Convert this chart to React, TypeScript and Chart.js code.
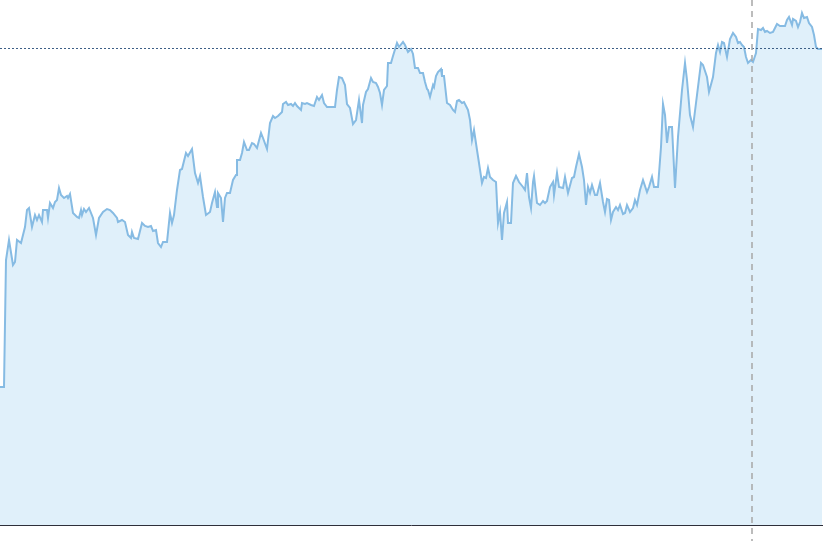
import React, { useEffect, useRef } from "react";
import { Chart, registerables } from "chart.js";

Chart.register(...registerables);

const days: number[] = [
  0, 4, 6, 9, 13, 15, 17, 21, 25, 27, 29, 32, 35, 37, 39, 42, 43, 47, 48, 50,
  53, 55, 57, 59, 61, 64, 67, 68, 70, 73, 77, 79, 81, 82, 84, 86, 89, 93, 96, 99,
  103, 107, 110, 113, 117, 118, 122, 125, 128, 131, 132, 134, 138, 142, 145, 148, 151, 153, 156, 158,
  161, 163, 167, 170, 172, 174, 177, 180, 182, 186, 188, 192, 195, 198, 200, 203, 206, 210, 212, 215,
  217, 218, 221, 223, 225, 227, 230, 233, 236, 237, 240, 242, 244, 247, 249, 252, 254, 257, 261, 263,
  267, 270, 273, 275, 278, 282, 283, 286, 288, 291, 293, 295, 297, 301, 302, 305, 307, 311, 314, 317,
  319, 322, 324, 327, 330, 335, 337, 339, 342, 345, 347, 350, 353, 356, 359, 362, 363, 366, 368, 371,
  373, 376, 378, 380, 382, 384, 387, 388, 391, 393, 397, 399, 403, 405, 408, 411, 413, 415, 418, 420,
  423, 425, 427, 428, 430, 433, 434, 436, 438, 441, 442, 444, 447, 450, 453, 455, 457, 459, 462, 464,
  467, 468, 470, 472, 474, 477, 479, 482, 484, 486, 488, 490, 493, 496, 498, 500, 502, 504, 507, 508,
  511, 513, 516, 519, 523, 525, 527, 529, 531, 533, 534, 537, 540, 543, 545, 547, 550, 553, 554, 557,
  559, 563, 565, 568, 572, 574, 576, 579, 582, 584, 586, 588, 590, 592, 595, 597, 600, 603, 605, 607,
  609, 611, 613, 616, 618, 620, 623, 625, 627, 630, 633, 635, 637, 640, 643, 647, 649, 652, 654, 658,
  661, 663, 665, 667, 669, 672, 675, 678, 682, 685, 687, 690, 693, 697, 701, 703, 707, 709, 713, 716,
  718, 720, 722, 724, 727, 730, 733, 736, 738, 740, 742, 744, 746, 748, 751, 753, 756, 758, 761, 763,
  765, 767, 770, 773, 775, 777, 780, 783, 785, 787, 789, 792, 793, 796, 798, 800, 802, 804, 807, 809,
  812, 814, 816, 818, 822,
];

const prices: number[] = [
  21.3, 21.3, 34.0, 36.0, 33.5, 33.8, 36.0, 35.7, 37.3, 39.0, 39.2, 37.3, 38.5, 38.0, 38.5, 37.8, 39.0, 39.0, 38.2, 39.7,
  39.2, 39.8, 40.0, 41.2, 40.5, 40.2, 40.4, 40.2, 40.6, 38.7, 38.3, 38.2, 39.0, 38.5, 39.1, 38.8, 39.2, 38.2, 36.5, 38.2,
  38.8, 39.1, 39.0, 38.7, 38.2, 37.8, 38.0, 37.8, 36.5, 36.2, 36.8, 36.2, 36.1, 37.7, 37.4, 37.3, 37.4, 36.9, 37.0, 35.7,
  35.3, 35.8, 35.8, 38.7, 37.7, 38.5, 41.0, 43.0, 43.1, 44.7, 44.4, 45.1, 42.7, 41.7, 42.4, 40.3, 38.5, 38.8, 39.7, 40.8,
  39.3, 40.7, 40.2, 37.8, 40.2, 40.7, 40.7, 42.0, 42.5, 44.0, 44.0, 44.7, 45.8, 45.0, 45.0, 45.7, 45.6, 45.2, 46.7, 46.2,
  45.1, 47.7, 48.4, 48.2, 48.4, 48.8, 49.6, 49.8, 49.5, 49.6, 49.4, 49.7, 49.4, 49.0, 49.7, 49.6, 49.7, 49.5, 49.4, 50.3,
  50.0, 50.5, 49.7, 49.3, 49.3, 49.3, 51.0, 52.3, 52.2, 51.5, 49.6, 49.2, 47.6, 48.0, 50.0, 47.7, 49.5, 50.8, 51.1, 52.2,
  51.8, 51.7, 51.3, 50.7, 49.5, 51.0, 51.4, 53.7, 53.7, 54.4, 55.7, 55.3, 55.8, 55.5, 54.8, 55.1, 54.6, 53.2, 53.2, 52.7,
  52.7, 51.8, 51.1, 51.0, 50.3, 51.5, 51.3, 52.4, 52.8, 53.1, 52.4, 52.4, 49.7, 49.5, 49.0, 48.8, 49.9, 50.0, 49.7, 49.8,
  49.2, 49.0, 48.0, 46.0, 47.0, 45.0, 43.7, 41.7, 42.3, 42.2, 43.2, 42.3, 42.0, 41.8, 37.7, 38.8, 36.0, 38.7, 39.8, 37.7,
  37.7, 41.7, 42.4, 41.8, 41.3, 41.0, 42.7, 40.3, 39.2, 41.8, 42.4, 39.7, 39.5, 39.9, 39.7, 39.9, 41.3, 41.8, 40.5, 42.7,
  41.3, 41.2, 42.3, 40.7, 42.2, 42.3, 43.3, 44.6, 43.3, 42.0, 39.5, 41.3, 40.7, 41.5, 40.5, 40.5, 41.7, 39.8, 38.8, 40.1,
  40.0, 38.0, 38.8, 39.3, 39.0, 39.5, 38.6, 38.7, 39.5, 38.8, 39.2, 40.0, 39.5, 41.0, 42.0, 40.8, 41.3, 42.3, 41.3, 41.3,
  45.3, 49.6, 48.5, 45.7, 47.3, 47.3, 41.2, 46.3, 51.0, 53.7, 52.0, 48.5, 47.3, 50.5, 53.7, 53.5, 52.3, 50.8, 52.3, 54.7,
  55.5, 54.8, 55.8, 55.7, 54.3, 56.1, 56.7, 56.3, 55.7, 55.8, 55.5, 55.3, 54.3, 53.7, 54.0, 53.8, 54.7, 57.1, 57.0, 57.2,
  56.8, 56.9, 56.7, 56.8, 57.2, 57.6, 57.4, 57.4, 57.4, 58.0, 58.3, 57.5, 58.1, 57.9, 57.3, 57.8, 58.7, 58.2, 58.3, 57.7,
  57.3, 56.5, 55.3, 55.1, 55.1,
];

const dayRange: number[] = [0, 823];
const priceRange: number[] = [7.5, 60];
const markerDay = 752;
const lastPrice = prices[prices.length - 1];

export default function App() {
  const canvasRef = useRef<HTMLCanvasElement | null>(null);

  useEffect(() => {
    document.body.style.margin = "0";
    const canvas = canvasRef.current;
    if (!canvas) return;

    const overlay = {
      id: "overlay",
      afterDatasetsDraw(chart: any) {
        const { ctx, chartArea, scales } = chart;
        ctx.save();
        // baseline
        ctx.strokeStyle = "#2e2f3a";
        ctx.lineWidth = 1;
        ctx.setLineDash([]);
        ctx.beginPath();
        ctx.moveTo(0, Math.round(chartArea.bottom) + 0.5);
        ctx.lineTo(chart.width, Math.round(chartArea.bottom) + 0.5);
        ctx.stroke();
        // last price line
        const yp = scales.y.getPixelForValue(lastPrice);
        ctx.strokeStyle = "#3d5f86";
        ctx.lineWidth = 1;
        ctx.setLineDash([2, 2]);
        ctx.beginPath();
        ctx.moveTo(chartArea.left, Math.round(yp) - 0.5);
        ctx.lineTo(chartArea.right, Math.round(yp) - 0.5);
        ctx.stroke();
        // vertical marker
        const xp = scales.x.getPixelForValue(markerDay);
        ctx.strokeStyle = "#a6a6a6";
        ctx.lineWidth = 1.5;
        ctx.setLineDash([6, 5]);
        ctx.beginPath();
        ctx.moveTo(xp, 0);
        ctx.lineTo(xp, chart.height);
        ctx.stroke();
        ctx.restore();
      },
    };

    const chart = new Chart(canvas, {
      type: "line",
      data: {
        datasets: [
          {
            data: days.map((d, i) => ({ x: d, y: prices[i] })),
            borderColor: "#86bbe3",
            backgroundColor: "#e0f0fa",
            borderWidth: 2,
            fill: "start",
            pointRadius: 0,
            tension: 0,
          },
        ],
      },
      options: {
        responsive: false,
        maintainAspectRatio: false,
        animation: false,
        layout: { padding: { left: 0, right: 0, top: 0, bottom: 16 } },
        plugins: { legend: { display: false }, tooltip: { enabled: false } },
        scales: {
          x: { type: "linear", display: false, min: dayRange[0], max: dayRange[1] },
          y: { type: "linear", display: false, min: priceRange[0], max: priceRange[1] },
        },
      },
      plugins: [overlay],
    });
    return () => chart.destroy();
  }, []);

  return (
    <canvas
      ref={canvasRef}
      width={823}
      height={541}
      style={{ display: "block", width: 823, height: 541 }}
    />
  );
}
